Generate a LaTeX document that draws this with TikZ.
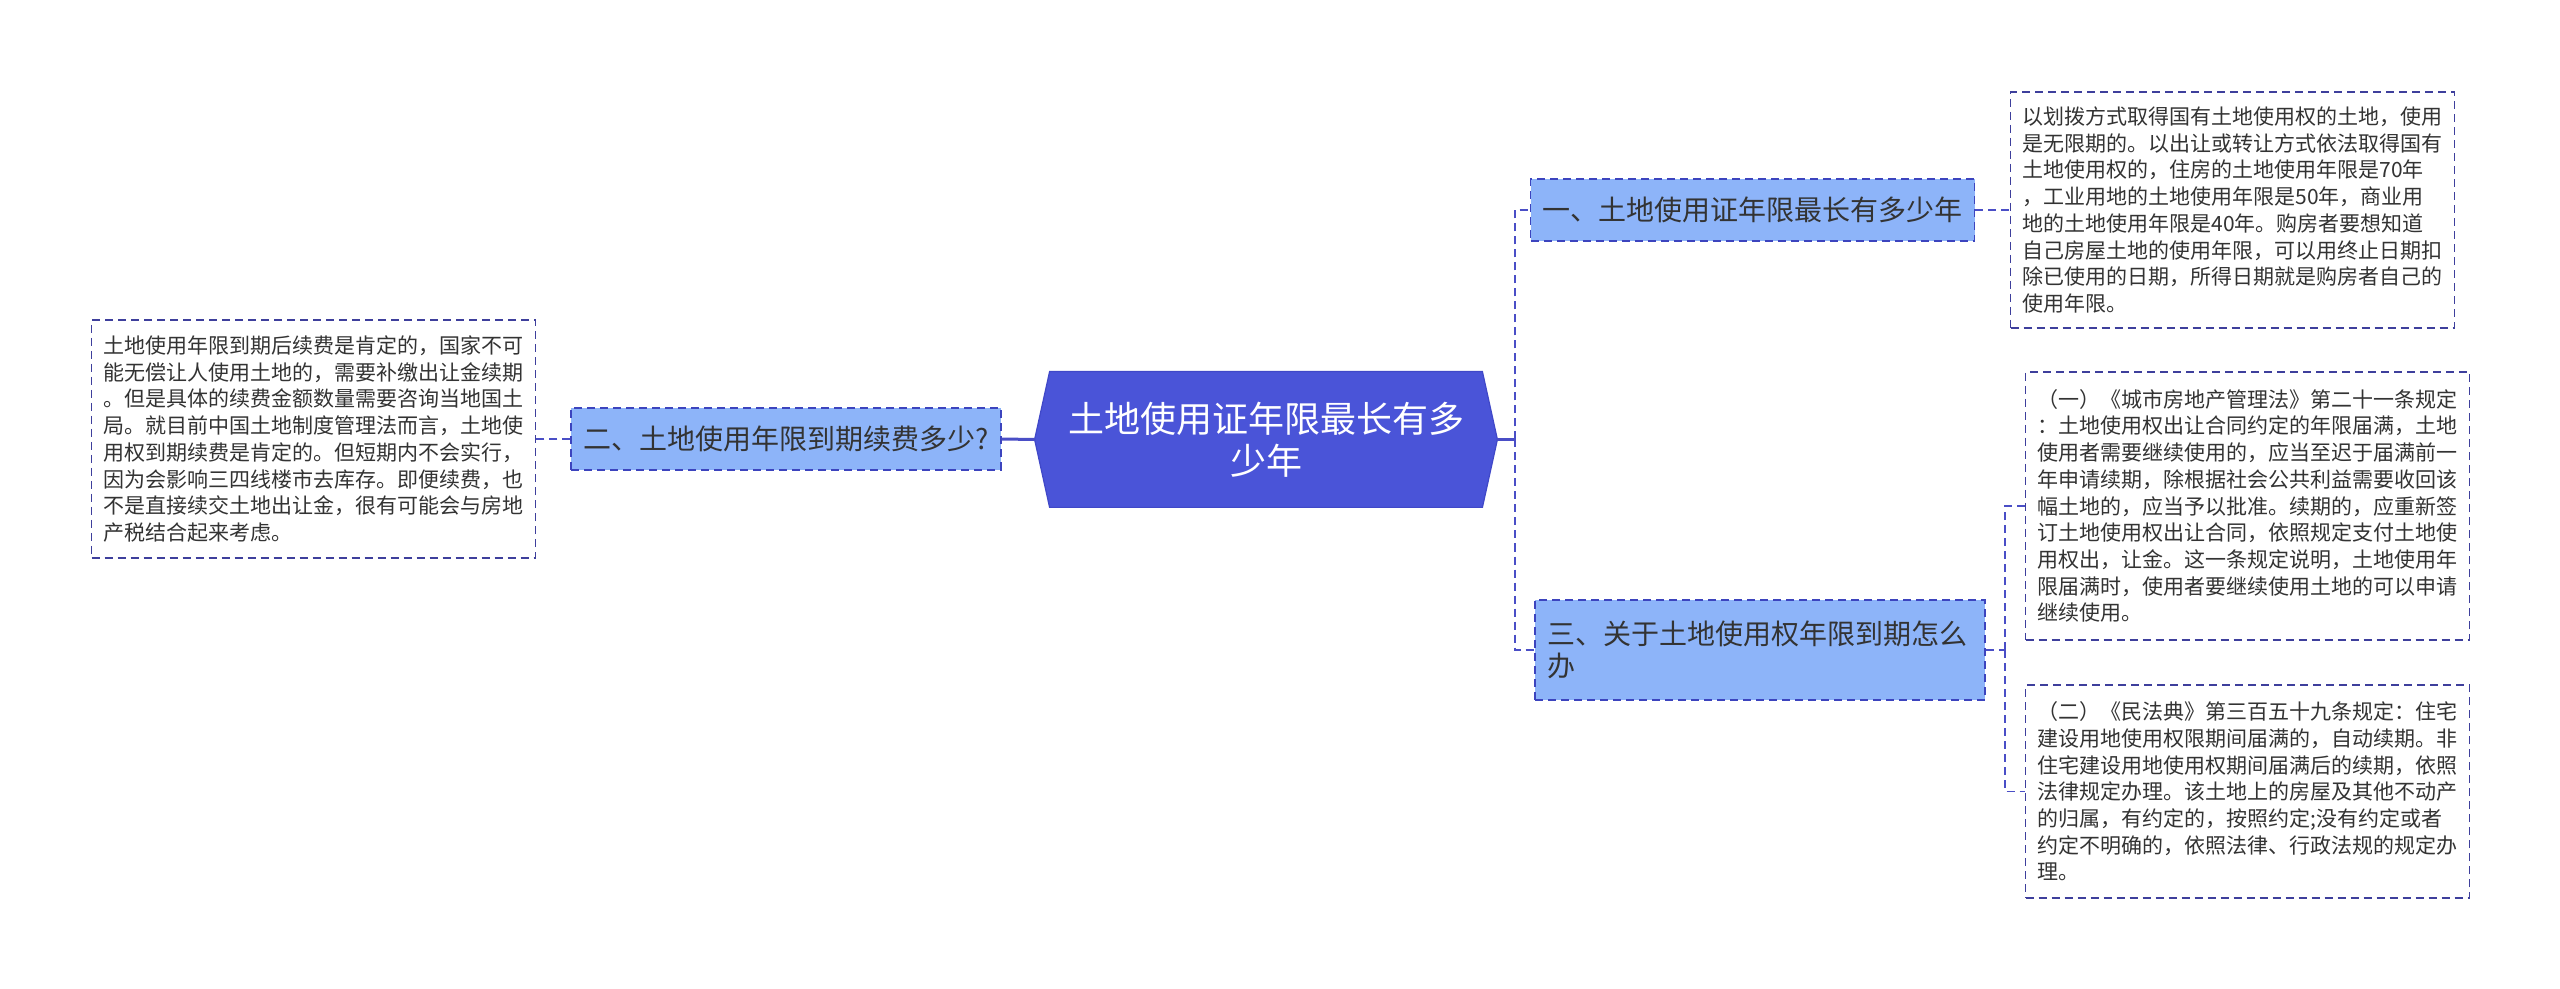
\documentclass[tikz,border=0pt]{standalone}
\usepackage{fontspec}
\setmainfont{Noto Sans CJK SC}
\usetikzlibrary{calc,backgrounds}
\definecolor{rootfill}{HTML}{4A54D8}
\definecolor{rootline}{HTML}{4048C8}
\definecolor{branchfill}{HTML}{8DB4F9}
\definecolor{branchline}{HTML}{3C44BE}
\definecolor{leafline}{HTML}{3E3F9C}
\definecolor{linkline}{HTML}{4A4EC6}
\definecolor{ink}{HTML}{333333}
\tikzset{
  every node/.style={text=ink,inner sep=0pt},
  rootbox/.style={minimum width=216pt,minimum height=67.5pt,align=center,text=white,font=\fontsize{18pt}{21pt}\selectfont},
  branchbox/.style={draw=branchline,line width=0.9pt,dash pattern=on 4pt off 2.5pt,fill=branchfill,minimum height=31pt,inner xsep=6pt,font=\fontsize{14pt}{16pt}\selectfont},
  leafbox/.style={draw=leafline,line width=0.8pt,dash pattern=on 4pt off 2.5pt,fill=white,text width=210pt,align=left,inner xsep=6pt,font=\fontsize{10.5pt}{13.35pt}\selectfont},
  rootlink/.style={draw=linkline,line width=1.5pt},
  link/.style={draw=linkline,line width=0.9pt,dash pattern=on 4pt off 2.5pt},
}

\begin{document}
\begin{tikzpicture}[x=0.5pt,y=-0.5pt]
\useasboundingbox (0,0) rectangle (2560,989);
\begin{scope}[on background layer]
\fill[white] (0,0) rectangle (2560,989);
\end{scope}
% centre topic
\node[rootbox] (root) at (1266,439.5) {土地使用证年限最长有多\\少年};
\coordinate (rtip) at ($(root.east)+(15,0)$);
\coordinate (ltip) at ($(root.west)+(-15,0)$);
\begin{scope}[on background layer]
\filldraw[fill=rootfill,draw=rootline,line width=0.6pt] (root.north west) -- (root.north east) -- (rtip) -- (root.south east) -- (root.south west) -- (ltip) -- cycle;
\end{scope}
% branches
\node[branchbox,minimum width=217.5pt] (b1) at (1752.5,210) {一、土地使用证年限最长有多少年};
\node[branchbox,minimum width=211pt] (b2) at (786,439) {二、土地使用年限到期续费多少?};
\node[branchbox,minimum height=50pt,text width=213pt,align=left] (b3) at (1760,650) {三、关于土地使用权年限到期怎么\\办};
% leaves
\node[leafbox,minimum height=118pt] (l1) at (2232.5,210) {以划拨方式取得国有土地使用权的土地，使用\\是无限期的。以出让或转让方式依法取得国有\\土地使用权的，住房的土地使用年限是70年\\，工业用地的土地使用年限是50年，商业用\\地的土地使用年限是40年。购房者要想知道\\自己房屋土地的使用年限，可以用终止日期扣\\除已使用的日期，所得日期就是购房者自己的\\使用年限。};
\node[leafbox,minimum height=134pt] (l2) at (2247.5,506) {（一）《城市房地产管理法》第二十一条规定\\：土地使用权出让合同约定的年限届满，土地\\使用者需要继续使用的，应当至迟于届满前一\\年申请续期，除根据社会公共利益需要收回该\\幅土地的，应当予以批准。续期的，应重新签\\订土地使用权出让合同，依照规定支付土地使\\用权出，让金。这一条规定说明，土地使用年\\限届满时，使用者要继续使用土地的可以申请\\继续使用。};
\node[leafbox,minimum height=106.5pt] (l3) at (2247.5,791.5) {（二）《民法典》第三百五十九条规定：住宅\\建设用地使用权限期间届满的，自动续期。非\\住宅建设用地使用权期间届满后的续期，依照\\法律规定办理。该土地上的房屋及其他不动产\\的归属，有约定的，按照约定;没有约定或者\\约定不明确的，依照法律、行政法规的规定办\\理。};
\node[leafbox,minimum height=119pt] (l0) at (313.5,439) {土地使用年限到期后续费是肯定的，国家不可\\能无偿让人使用土地的，需要补缴出让金续期\\。但是具体的续费金额数量需要咨询当地国土\\局。就目前中国土地制度管理法而言，土地使\\用权到期续费是肯定的。但短期内不会实行，\\因为会影响三四线楼市去库存。即便续费，也\\不是直接续交土地出让金，很有可能会与房地\\产税结合起来考虑。};
% connectors
\coordinate (jr) at (1515,439.5);
\coordinate (j3) at (2005,650);
\draw[rootlink] (rtip) -- (jr);
\draw[rootlink] (ltip) -- (b2.east);
\draw[link] (jr) |- (b1.west);
\draw[link] (jr) |- (b3.west);
\draw[link] (b1.east) -- (l1.west);
\draw[link] (b3.east) -- (j3);
\draw[link] (j3) |- (l2.west);
\draw[link] (j3) |- (l3.west);
\draw[link] (b2.west) -- (l0.east);
\end{tikzpicture}
\end{document}
